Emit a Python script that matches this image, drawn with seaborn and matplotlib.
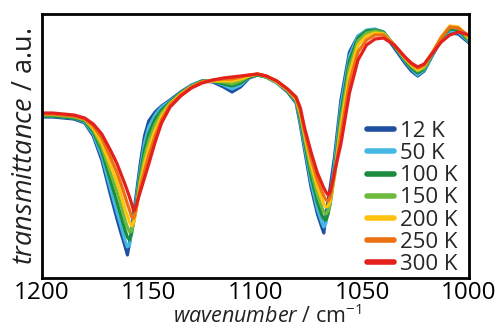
import numpy as np
import pandas as pd
import matplotlib
matplotlib.use("Agg")
import matplotlib.pyplot as plt
import seaborn as sns

# wavenumber grid (cm^-1)
wavenumber = [1200, 1195, 1190, 1185, 1180, 1176, 1172, 1168, 1165, 1163, 1161, 1160, 1159, 1158, 1157,
              1156, 1154, 1152, 1150, 1147, 1144, 1140, 1135, 1130, 1125, 1120, 1115, 1111, 1107, 1103,
              1099, 1095, 1090, 1085, 1081, 1079, 1077, 1074, 1071, 1069, 1068, 1067, 1066, 1065, 1063,
              1060, 1056, 1052, 1048, 1044, 1040, 1035, 1030, 1027, 1024, 1021, 1017, 1013, 1009, 1005, 1000]

temperatures = ["12 K", "50 K", "100 K", "150 K", "200 K", "250 K", "300 K"]

# transmittance (a.u.)
t_12K = [161, 161, 160, 159, 155, 142, 118, 84, 60, 45, 31, 23, 35, 50, 66, 81, 114, 142, 157, 166, 172, 178, 186, 193,
         197, 196, 191, 186, 191, 200, 203, 201, 195, 186, 175, 153, 128, 91, 64, 51, 45, 63, 77, 91, 121, 178, 226, 242,
         247, 248, 245, 230, 215, 207, 202, 207, 223, 238, 245, 244, 235]
t_50K = [162, 162, 161, 160, 156, 144, 122, 90, 67, 52, 37, 31, 33, 46, 61, 76, 108, 135, 151, 163, 171, 177, 185, 193,
         197, 197, 193, 189, 193, 201, 203, 201, 195, 187, 176, 156, 132, 96, 69, 56, 51, 55, 68, 82, 114, 172, 222, 242,
         248, 249, 246, 232, 217, 209, 203, 208, 224, 239, 247, 246, 236]
t_100K = [162, 162, 161, 160, 157, 146, 127, 98, 77, 62, 47, 41, 38, 45, 58, 72, 103, 128, 144, 159, 168, 176, 185, 192,
          197, 197, 194, 192, 195, 201, 203, 201, 196, 187, 177, 159, 136, 102, 76, 63, 59, 58, 64, 75, 107, 165, 217, 240,
          247, 248, 246, 232, 218, 210, 205, 209, 225, 240, 249, 248, 237]
t_150K = [163, 163, 162, 161, 158, 148, 131, 106, 87, 72, 57, 51, 46, 47, 56, 69, 98, 121, 137, 154, 165, 175, 184, 192,
          196, 197, 196, 194, 197, 202, 204, 201, 196, 188, 178, 162, 140, 108, 83, 71, 66, 64, 67, 74, 103, 158, 211, 237,
          245, 247, 245, 233, 219, 212, 207, 210, 225, 241, 251, 250, 238]
t_200K = [164, 164, 163, 162, 159, 150, 135, 113, 97, 83, 68, 62, 56, 52, 56, 67, 94, 114, 130, 148, 162, 174, 184, 191,
          196, 197, 197, 197, 199, 202, 204, 202, 196, 188, 179, 165, 144, 114, 91, 79, 74, 71, 72, 77, 102, 151, 204, 233,
          242, 245, 244, 233, 220, 213, 208, 212, 226, 241, 252, 251, 240]
t_250K = [164, 164, 163, 162, 159, 152, 140, 121, 106, 94, 81, 74, 68, 61, 60, 68, 90, 107, 122, 142, 158, 173, 183, 191,
          196, 198, 199, 199, 201, 203, 204, 202, 197, 189, 180, 168, 147, 120, 98, 87, 82, 78, 77, 81, 103, 143, 195, 226,
          238, 243, 243, 233, 221, 214, 210, 213, 226, 240, 251, 250, 242]
t_300K = [165, 165, 164, 163, 160, 154, 144, 128, 115, 104, 93, 87, 81, 74, 67, 72, 86, 100, 114, 136, 155, 171, 182, 190,
          195, 198, 200, 201, 202, 203, 204, 202, 197, 189, 181, 170, 150, 126, 105, 95, 90, 86, 83, 86, 106, 134, 185, 218,
          233, 239, 240, 233, 221, 215, 211, 214, 225, 236, 243, 246, 243]

series = [t_12K, t_50K, t_100K, t_150K, t_200K, t_250K, t_300K]
colors = ["#1f4fa0", "#45b8e6", "#1a8c3c", "#6cbb3c", "#ffc20e", "#ec7014", "#e3211c"]

xticks = [1200, 1150, 1100, 1050, 1000]

rows = []
for temp, vals in zip(temperatures, series):
    for w, v in zip(wavenumber, vals):
        rows.append({"wavenumber": w, "transmittance": v, "T": temp})
df = pd.DataFrame(rows)

sns.set_theme(style="white")
plt.rcParams["font.family"] = ["Open Sans", "DejaVu Sans"]
plt.rcParams["mathtext.fontset"] = "custom"
plt.rcParams["mathtext.rm"] = "Open Sans"
plt.rcParams["mathtext.it"] = "Open Sans:italic"

fig = plt.figure(figsize=(4.97, 3.29), dpi=100)
ax = fig.add_axes([42 / 497, 1 - 278 / 329, (469 - 42) / 497, (278 - 14) / 329])

sns.lineplot(data=df, x="wavenumber", y="transmittance", hue="T", hue_order=temperatures,
             palette=colors, linewidth=2.3, estimator=None, sort=False, ax=ax)

ax.set_xlim(1200, 1000)
ax.set_ylim(0, 264)
ax.set_xticks(xticks)
ax.set_xticklabels([str(t) for t in xticks])
ax.set_yticks([])
ax.tick_params(axis="x", direction="in", length=14, width=2, labelsize=17.5, pad=2, colors="black")
for sp in ax.spines.values():
    sp.set_linewidth(2)
    sp.set_color("black")

ax.set_xlabel(r"$\mathit{wavenumber}$ / cm$^{-1}$", fontsize=15.5, color="#222222")
ax.xaxis.set_label_coords(0.528, -0.19, transform=ax.transAxes)
ax.xaxis.label.set_va("bottom")
ax.set_ylabel(r"$\mathit{transmittance}$ / a.u.", fontsize=19.5, labelpad=2, color="#222222")

leg = ax.legend(loc="lower right", bbox_to_anchor=(1.0, -0.03), frameon=False, fontsize=16,
                handlelength=1.2, handletextpad=0.3, labelspacing=0.05, borderaxespad=0.1)
for line in leg.get_lines():
    line.set_linewidth(4)

fig.savefig("out.png", dpi=100)
